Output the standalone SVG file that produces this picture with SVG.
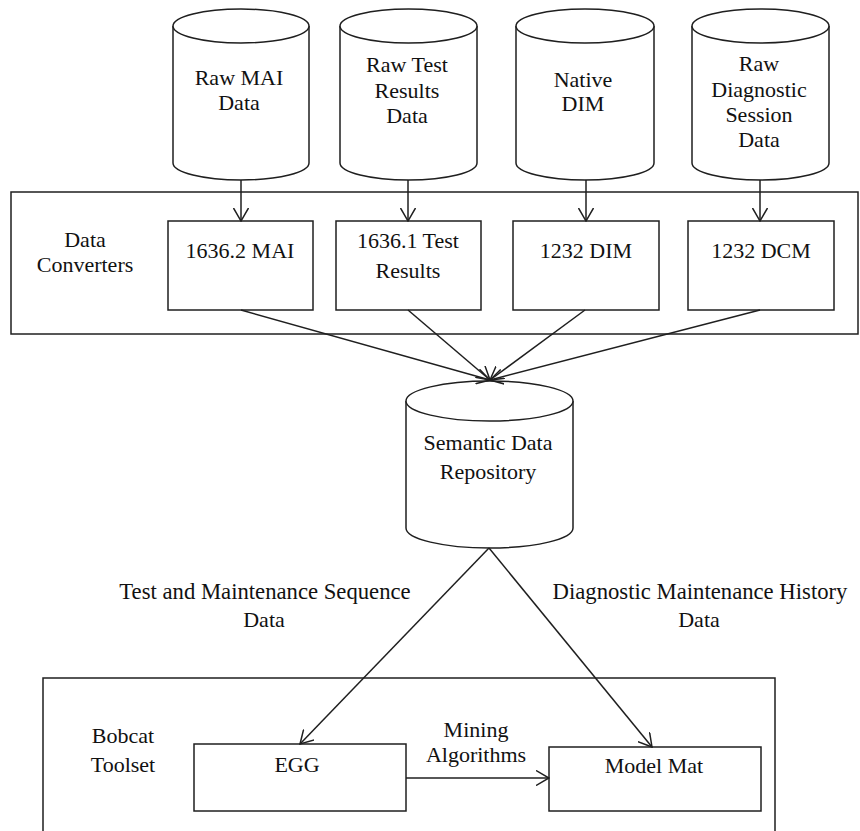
<svg xmlns="http://www.w3.org/2000/svg" width="860" height="831" viewBox="0 0 860 831" font-family="Liberation Serif, serif" font-size="22">
<style>
.s{fill:#fff;stroke:#1f1f1f;stroke-width:1.5}
.c{fill:none;stroke:#1f1f1f;stroke-width:1.5}
text{fill:#111;text-anchor:middle}
.big{font-size:22.7px}
</style>
<defs>
<marker id="ah" markerUnits="userSpaceOnUse" viewBox="0 0 14 16" refX="13" refY="8" markerWidth="14" markerHeight="16" orient="auto">
<path d="M0,0.5 L13,8 L0,15.5" fill="none" stroke="#1f1f1f" stroke-width="1.5"/>
</marker>
</defs>
<rect width="860" height="831" fill="#fff"/>
<g id="converters-group">
<rect class="s" x="11" y="192" width="847" height="142"/>
<text x="85" y="247">Data</text>
<text x="85" y="272">Converters</text>
</g>
<g id="bobcat-group">
<path class="c" d="M43,840 V678 H775 V840"/>
<text x="123" y="743">Bobcat</text>
<text x="123" y="772">Toolset</text>
</g>
<g id="raw-mai">
<path class="s" d="M173,26 V163 A68,17 0 0 0 309,163 V26"/>
<ellipse class="s" cx="241" cy="26" rx="68" ry="17"/>
<text x="239" y="85">Raw MAI</text>
<text x="239" y="110">Data</text>
</g>
<g id="raw-test">
<path class="s" d="M340,26 V163 A68.5,17 0 0 0 477,163 V26"/>
<ellipse class="s" cx="408.5" cy="26" rx="68.5" ry="17"/>
<text x="407" y="72">Raw Test</text>
<text x="407" y="98">Results</text>
<text x="407" y="123">Data</text>
</g>
<g id="native-dim">
<path class="s" d="M516,26 V163 A69,17 0 0 0 654,163 V26"/>
<ellipse class="s" cx="585" cy="26" rx="69" ry="17"/>
<text x="583" y="87">Native</text>
<text x="583" y="111">DIM</text>
</g>
<g id="raw-diag">
<path class="s" d="M692,26 V163 A68.5,17 0 0 0 829,163 V26"/>
<ellipse class="s" cx="760.5" cy="26" rx="68.5" ry="17"/>
<text x="759" y="71">Raw</text>
<text x="759" y="97">Diagnostic</text>
<text x="759" y="122">Session</text>
<text x="759" y="147">Data</text>
</g>
<g id="conv-mai">
<rect class="s" x="168" y="221" width="145" height="89"/>
<text x="240" y="258">1636.2 MAI</text>
</g>
<g id="conv-test">
<rect class="s" x="336" y="221" width="145" height="89"/>
<text x="408" y="248">1636.1 Test</text>
<text x="408" y="278">Results</text>
</g>
<g id="conv-dim">
<rect class="s" x="513" y="221" width="146" height="89"/>
<text x="586" y="258">1232 DIM</text>
</g>
<g id="conv-dcm">
<rect class="s" x="688" y="221" width="146" height="89"/>
<text x="761" y="258">1232 DCM</text>
</g>
<g id="semantic">
<path class="s" d="M406,401 V528 A83.5,20 0 0 0 573,528 V401"/>
<ellipse class="s" cx="489.5" cy="401" rx="83.5" ry="20"/>
<text x="488" y="450">Semantic Data</text>
<text x="488" y="479">Repository</text>
</g>
<g id="egg">
<rect class="s" x="194" y="744" width="212" height="67"/>
<text x="297" y="772">EGG</text>
</g>
<g id="modelmat">
<rect class="s" x="549" y="747" width="212" height="64"/>
<text x="654" y="773">Model Mat</text>
</g>
<g id="connectors">
<line class="c" x1="241" y1="180" x2="241" y2="221" marker-end="url(#ah)"/>
<line class="c" x1="408" y1="180" x2="408" y2="221" marker-end="url(#ah)"/>
<line class="c" x1="586" y1="180" x2="586" y2="221" marker-end="url(#ah)"/>
<line class="c" x1="760" y1="180" x2="760" y2="221" marker-end="url(#ah)"/>
<line class="c" x1="241" y1="310" x2="490" y2="380" marker-end="url(#ah)"/>
<line class="c" x1="408" y1="310" x2="490" y2="380" marker-end="url(#ah)"/>
<line class="c" x1="585" y1="310" x2="490" y2="380" marker-end="url(#ah)"/>
<line class="c" x1="760" y1="310" x2="490" y2="380" marker-end="url(#ah)"/>
<line class="c" x1="489" y1="548" x2="300" y2="744" marker-end="url(#ah)"/>
<line class="c" x1="489" y1="548" x2="652" y2="747" marker-end="url(#ah)"/>
<line class="c" x1="406" y1="778" x2="549" y2="778" marker-end="url(#ah)"/>
<text class="big" x="265" y="599">Test and Maintenance Sequence</text>
<text x="264" y="627">Data</text>
<text class="big" x="700" y="599">Diagnostic Maintenance History</text>
<text x="699" y="627">Data</text>
<text x="476" y="737">Mining</text>
<text x="476" y="762">Algorithms</text>
</g>
</svg>
